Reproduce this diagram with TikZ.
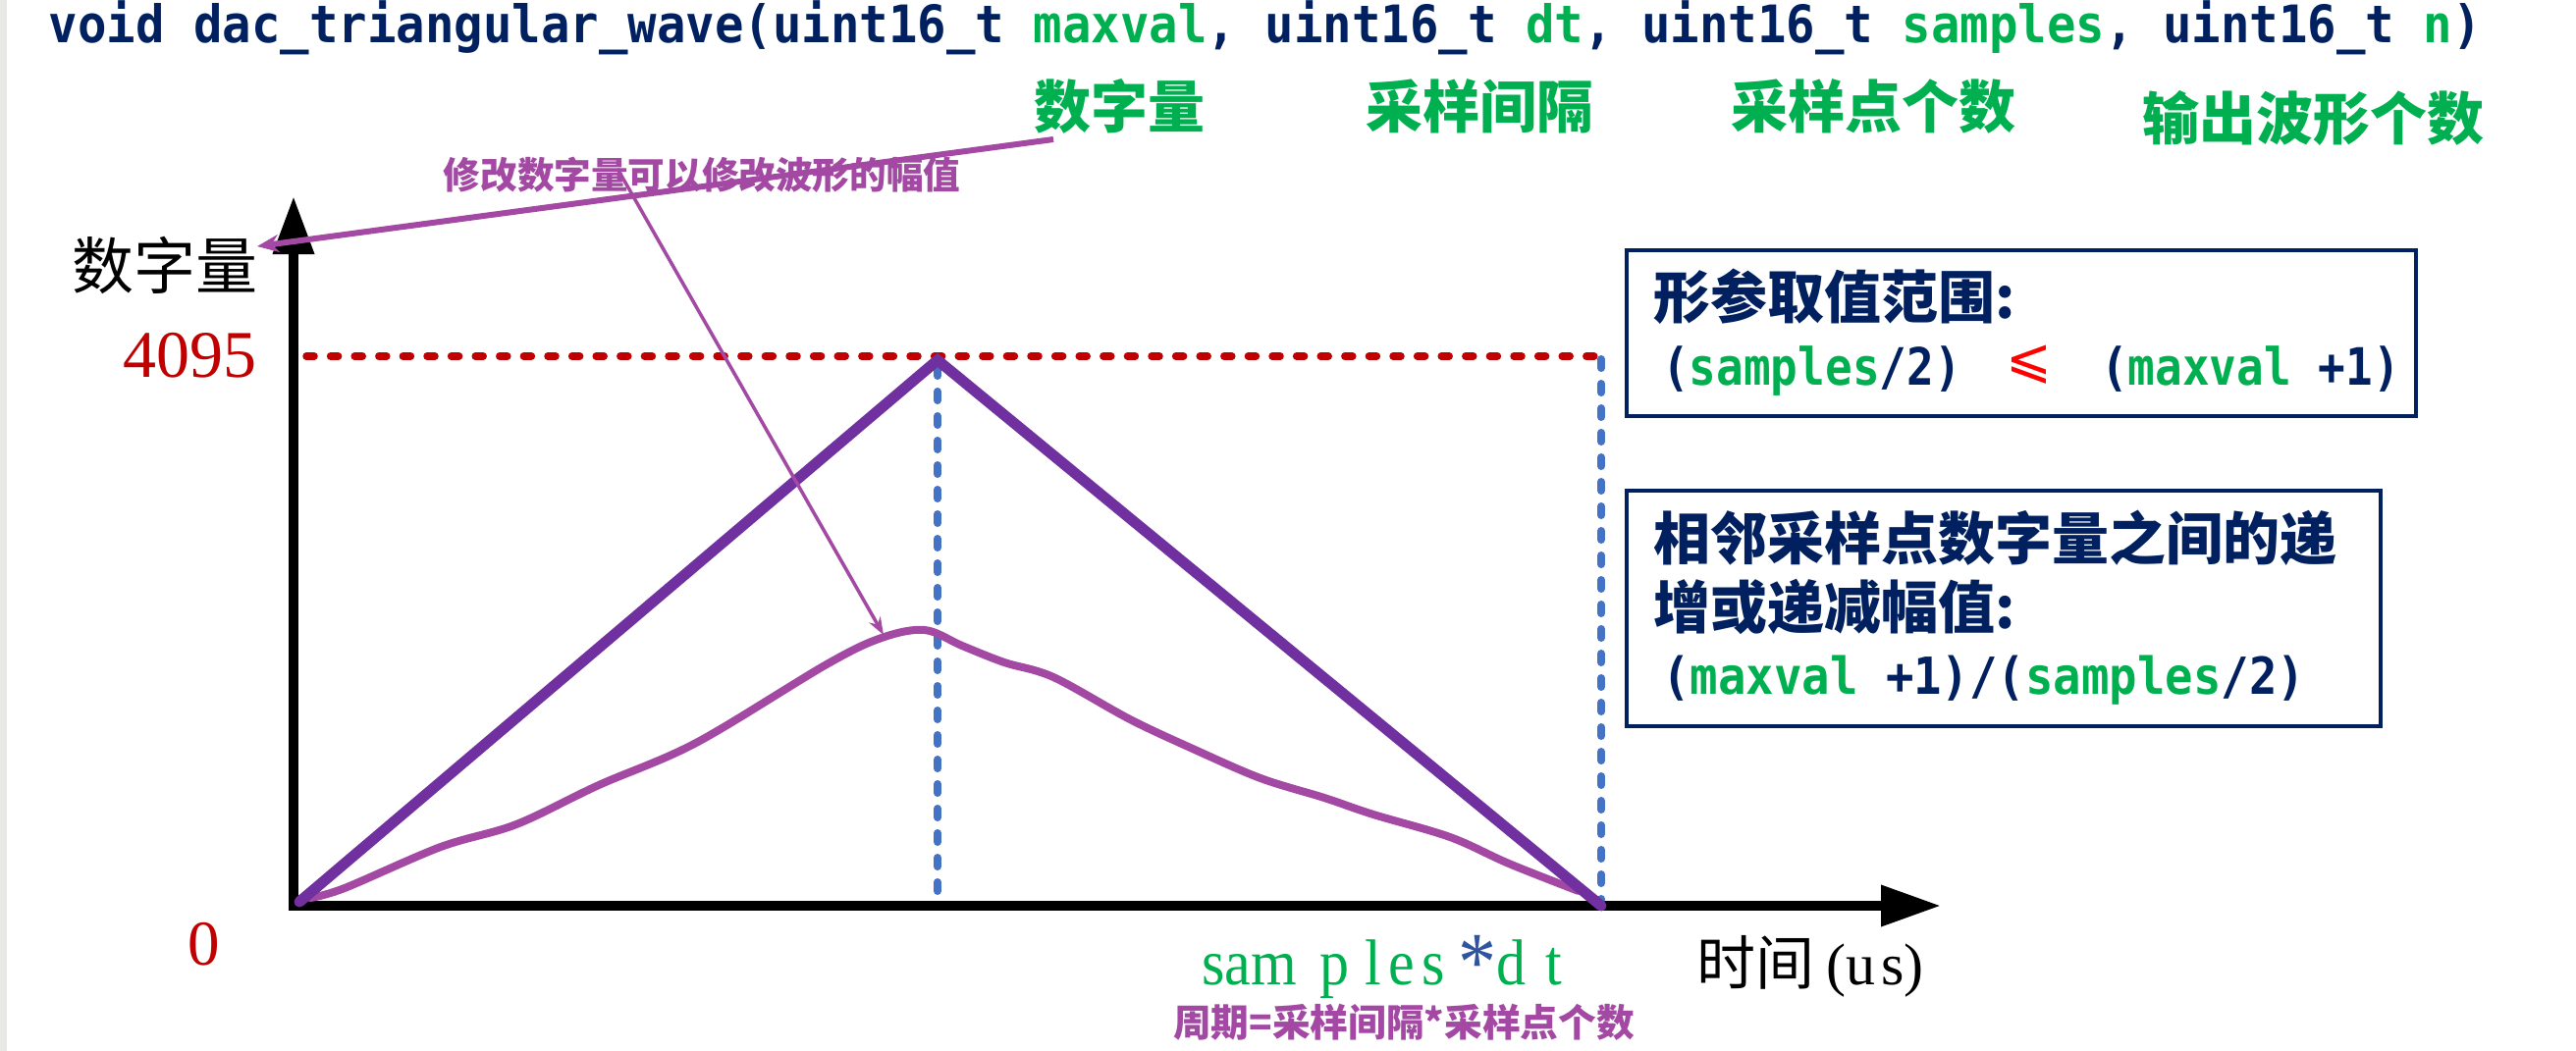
\documentclass[tikz,border=0pt]{standalone}
\usepackage{graphicx}
\usepackage{fontspec}
\setmainfont{Liberation Serif}
\newfontfamily\cjk{Noto Sans CJK SC}
\newfontfamily\mono{DejaVu Sans Mono}
\newfontfamily\dv{DejaVu Sans}
\usetikzlibrary{arrows.meta}
\definecolor{navy}{RGB}{0,32,96}
\definecolor{grn}{RGB}{0,176,80}
\definecolor{ppl}{RGB}{163,73,164}
\definecolor{tri}{RGB}{112,48,160}
\definecolor{dred}{RGB}{192,0,0}
\definecolor{lblue}{RGB}{68,114,196}
\definecolor{astb}{RGB}{47,85,160}
\definecolor{stripc}{RGB}{232,233,228}
\newcommand\fs[1]{\fontsize{#1pt}{#1pt}\selectfont}
\tikzset{
  glab/.style={text=grn, font=\cjk\bfseries\fs{58}, inner sep=0pt},
  boxtxt/.style={anchor=west, text=navy, font=\cjk\bfseries\fs{58}, inner sep=0pt},
  monotxt/.style={anchor=base west, text=navy, inner sep=0pt},
  infobox/.style={draw=navy, line width=3.5pt, inner sep=0pt},
  axisline/.style={black, line width=10pt, line join=miter},
  redline/.style={dred, line width=7.5pt, line cap=round, dash pattern=on 8pt off 16.6pt},
  blueline/.style={lblue, line width=8pt, line cap=round, dash pattern=on 9pt off 16pt},
  annarrow/.style={ppl, line width=6pt, -{Stealth[length=22pt,width=18pt]}},
  thinarrow/.style={ppl, line width=3.5pt, -{Stealth[length=18pt,width=13pt]}}
}
\begin{document}
\begin{tikzpicture}[x=1pt,y=-1pt]
\useasboundingbox (0,0) rectangle (2624,1071);
\fill[white] (0,0) rectangle (2624,1071);
\fill[stripc] (0,0) rectangle (7,1071);

% title
\node[monotxt] (title) at (49.5,43) {\scalebox{1}[1.075]{\mono\bfseries\fs{49}void dac\_triangular\_wave(uint16\_t \textcolor{grn}{maxval}, uint16\_t \textcolor{grn}{dt}, uint16\_t \textcolor{grn}{samples}, uint16\_t \textcolor{grn}{n})}};

% green parameter labels
\node[glab] (g1) at (1140,108) {数字量};
\node[glab] (g2) at (1507,108) {采样间隔};
\node[glab] (g3) at (1908,108) {采样点个数};
\node[glab] (g4) at (2356,120) {输出波形个数};

% annotation text
\node[font=\cjk\bfseries\fs{37.6}, text=ppl, inner sep=0pt] (ann) at (715,178) {修改数字量可以修改波形的幅值};

% axes
\coordinate (O) at (299,923);
\coordinate (ytip) at (299,200);
\coordinate (xtip) at (1977,923);
\draw[axisline, {Triangle[length=59pt,width=40pt]}-{Triangle[length=61pt,width=40pt]}] (ytip) -- (O) -- (xtip);

% axis labels
\node[font=\cjk\fs{63}, inner sep=0pt] (ylab) at (168,270) {数字量};
\node[font=\fs{68}, text=dred, anchor=base east, inner sep=0pt] (v4095) at (262,384) {4095};
\node[font=\fs{65}, text=dred, anchor=base, inner sep=0pt] (v0) at (208,983) {0};

% guide lines
\coordinate (r0) at (312,363);
\coordinate (r1) at (1629,363);
\draw[redline] (r0) -- (r1);
\coordinate (bA0) at (955,374);
\coordinate (bA1) at (955,917);
\coordinate (bB0) at (1631,366);
\coordinate (bB1) at (1631,917);
\draw[blueline] (bA0) -- (bA1);
\draw[blueline] (bB0) -- (bB1);

% modified waveform
\draw[ppl, line width=8pt, line cap=round, line join=round] plot[smooth, tension=0.55] coordinates {(316,915) (351,905) (449,863) (526,840) (610,800) (709,757) (842,677) (898,650) (942,642) (980,658) (1023,675) (1073,690) (1151,733) (1215,763) (1284,793) (1349,813) (1399,830) (1477,853) (1537,880) (1608,908)};

% triangle wave
\coordinate (T0) at (305,919);
\coordinate (Tp) at (955,367);
\coordinate (T1) at (1631,923);
\draw[tri, line width=11pt, line join=miter, line cap=round] (T0) -- (Tp) -- (T1);

% bottom labels
\node[anchor=base west, inner sep=0pt] (sdt) at (1224,1003) {\scalebox{1}[1.1]{\fs{60}\color{grn}sam\hspace{24pt}p\hspace{16pt}l\hspace{7pt}e\hspace{7pt}s\hspace{14pt}\textcolor{astb}{\raisebox{-6pt}{\fs{78}*}}d\hspace{20pt}t}};
\node[anchor=base west, inner sep=0pt] (tlab) at (1728,1003) {{\cjk\fs{60}时间}\hspace{12pt}{\fs{60}(u\hspace{6pt}s)}};
\node[font=\cjk\bfseries\fs{38.7}, text=ppl, inner sep=0pt] (per) at (1430,1042) {周期=采样间隔*采样点个数};

% info boxes
\node[infobox, minimum width=804pt, minimum height=169pt] (b1) at (2059,339.5) {};
\node[boxtxt] (b1l1) at (1684,302.5) {形参取值范围:};
\node[monotxt] (b1l2a) at (1693,392) {\scalebox{1}[1.14]{\mono\bfseries\fs{46}(\textcolor{grn}{samples}/2)}};
\node[text=red, font=\dv\fs{56}, inner sep=0pt] (le) at (2067,372) {⩽};
\node[monotxt] (b1l2b) at (2140,392) {\scalebox{1}[1.14]{\mono\bfseries\fs{46}(\textcolor{grn}{maxval} +1)}};

\node[infobox, minimum width=768pt, minimum height=240pt] (b2) at (2041,620) {};
\node[boxtxt] (b2l1) at (1684,548) {相邻采样点数字量之间的递};
\node[boxtxt] (b2l2) at (1684,618) {增或递减幅值:};
\node[monotxt] (b2l3) at (1693,707) {\scalebox{1}[1.1]{\mono\bfseries\fs{47.3}(\textcolor{grn}{maxval} +1)/(\textcolor{grn}{samples}/2)}};

% annotation arrows
\coordinate (a1s) at (1073,142);
\coordinate (a1e) at (262,251);
\draw[annarrow] (a1s) -- (a1e);
\coordinate (a2s) at (629,172);
\coordinate (a2e) at (900,647);
\draw[thinarrow] (a2s) -- (a2e);
\end{tikzpicture}
\end{document}
